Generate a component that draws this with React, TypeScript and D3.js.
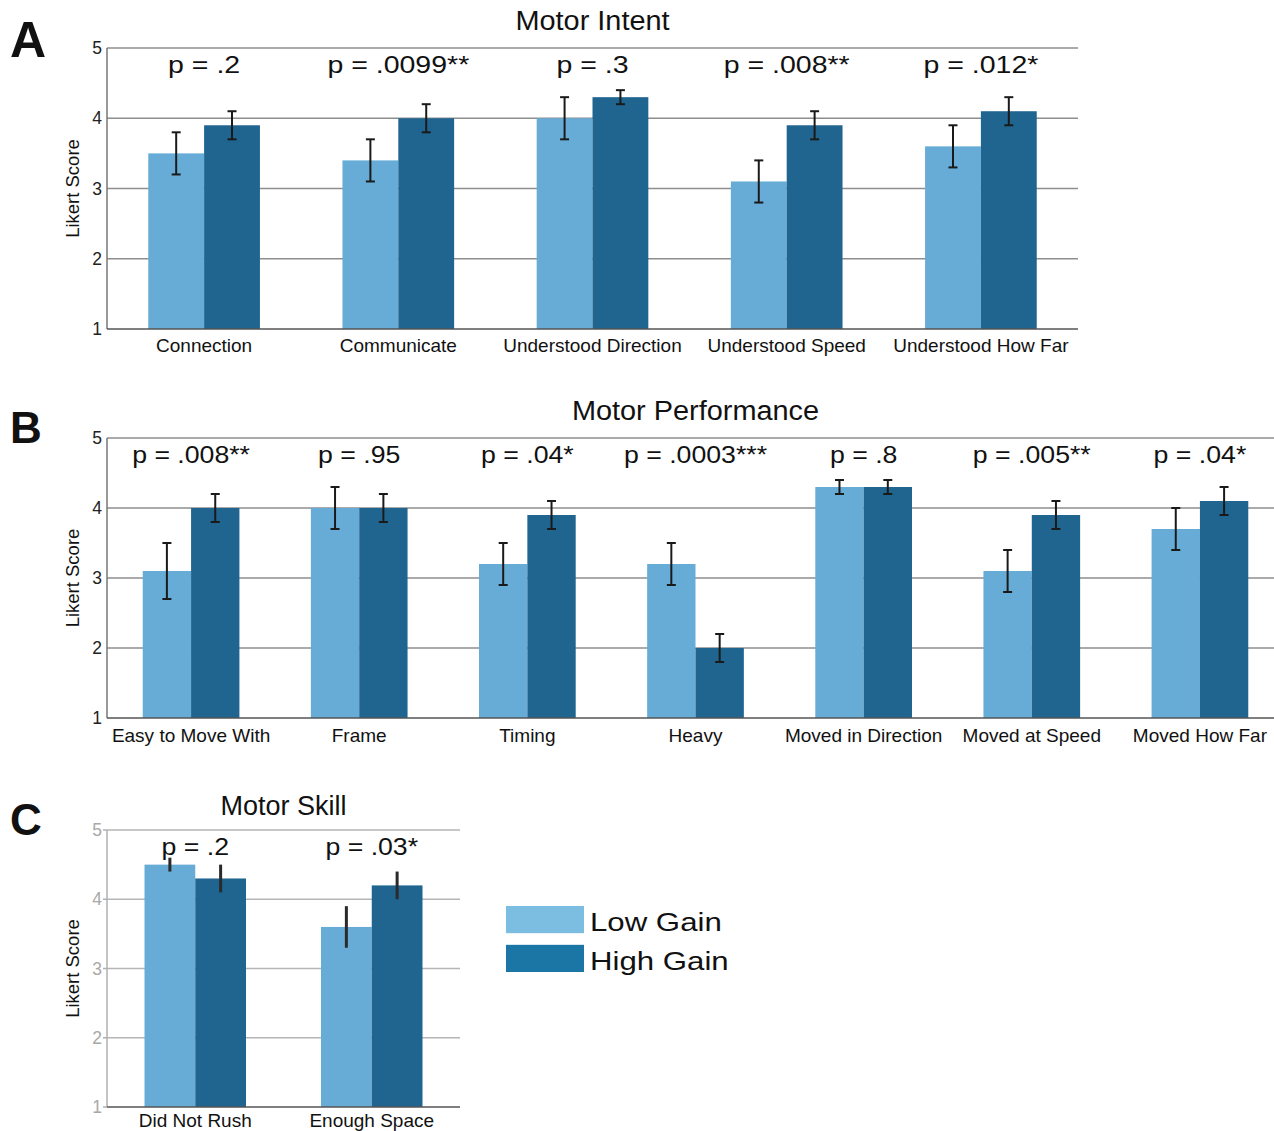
import React from 'react';
import * as d3 from 'd3';

// ---------- data ----------
const intentCategories = ['Connection', 'Communicate', 'Understood Direction', 'Understood Speed', 'Understood How Far'];
const intentLow = [3.5, 3.4, 4.0, 3.1, 3.6];
const intentLowErr = [0.3, 0.3, 0.3, 0.3, 0.3];
const intentHigh = [3.9, 4.0, 4.3, 3.9, 4.1];
const intentHighErr = [0.2, 0.2, 0.1, 0.2, 0.2];
const intentP = ['p = .2', 'p = .0099**', 'p = .3', 'p = .008**', 'p = .012*'];

const perfCategories = ['Easy to Move With', 'Frame', 'Timing', 'Heavy', 'Moved in Direction', 'Moved at Speed', 'Moved How Far'];
const perfLow = [3.1, 4.0, 3.2, 3.2, 4.3, 3.1, 3.7];
const perfLowErr = [0.4, 0.3, 0.3, 0.3, 0.1, 0.3, 0.3];
const perfHigh = [4.0, 4.0, 3.9, 2.0, 4.3, 3.9, 4.1];
const perfHighErr = [0.2, 0.2, 0.2, 0.2, 0.1, 0.2, 0.2];
const perfP = ['p = .008**', 'p = .95', 'p = .04*', 'p = .0003***', 'p = .8', 'p = .005**', 'p = .04*'];

const skillCategories = ['Did Not Rush', 'Enough Space'];
const skillLow = [4.5, 3.6];
const skillLowErr = [0.1, 0.3];
const skillHigh = [4.3, 4.2];
const skillHighErr = [0.2, 0.2];
const skillP = ['p = .2', 'p = .03*'];

const yTicks = [1, 2, 3, 4, 5];
const gridTicks = [2, 3, 4, 5];
const seriesNames = ['Low Gain', 'High Gain'];

// ---------- style ----------
const FONT = '"Liberation Sans", Arial, Helvetica, sans-serif';
const LOW_COLOR = '#67acd6';
const HIGH_COLOR = '#1f6590';
const LEGEND_LOW = '#7cbde2';
const LEGEND_HIGH = '#1b76a5';

type PanelProps = {
  cats: string[];
  low: number[];
  lowErr: number[];
  high: number[];
  highErr: number[];
  pLabels: string[];
  title: string;
  letter: string;
  letterSize: number;
  left: number;
  right: number;
  top: number;
  bottom: number;
  light?: boolean;
  pScale: number;
  titleSize: number;
  titleScale: number;
  titleGap: number;
  xLabelGap: number;
};

function Panel(props: PanelProps) {
  const { cats, low, lowErr, high, highErr, pLabels, title, letter, letterSize, left, right, top, bottom, light, pScale, titleSize, titleScale, titleGap, xLabelGap } = props;
  const pad = 0.425;
  const x0 = d3.scaleBand<string>().domain(cats).range([left, right]).paddingInner(pad).paddingOuter(pad / 2);
  const x1 = d3.scaleBand<string>().domain(['low', 'high']).range([0, x0.bandwidth()]);
  const y = d3.scaleLinear().domain([1, 5]).range([bottom, top]);
  const gridColor = light ? '#b5b5b5' : '#8e8e8e';
  const tickColor = light ? '#a8a8a8' : '#222';
  const axisColor = light ? '#b0b0b0' : '#777';
  const cx = (left + right) / 2;
  const cap = 4.5;

  const series = [
    { key: 'low', vals: low, errs: lowErr, color: LOW_COLOR },
    { key: 'high', vals: high, errs: highErr, color: HIGH_COLOR },
  ];

  return (
    <g>
      {/* letter */}
      <text x={10} y={top + (letter === 'A' ? 9 : 5)} fontSize={letterSize} fontWeight="bold" fontFamily={FONT} fill="#111">{letter}</text>
      {/* title */}
      <text transform={`translate(${cx},${top - titleGap}) scale(${titleScale},1)`} textAnchor="middle" fontSize={titleSize} fontFamily={FONT} fill="#111">{title}</text>
      {/* grid */}
      {gridTicks.map((t) => (
        <line key={t} x1={left} x2={right} y1={y(t)} y2={y(t)} stroke={gridColor} strokeWidth={1.5} />
      ))}
      {/* bars */}
      {cats.map((c, i) => (
        <g key={c}>
          {series.map((s) => (
            <rect key={s.key} x={(x0(c) as number) + (x1(s.key) as number)} y={y(s.vals[i])} width={x1.bandwidth()} height={y(1) - y(s.vals[i])} fill={s.color} />
          ))}
        </g>
      ))}
      {/* error bars */}
      {cats.map((c, i) => (
        <g key={c + '-err'}>
          {series.map((s) => {
            const ex = (x0(c) as number) + (x1(s.key) as number) + x1.bandwidth() / 2;
            const y1 = y(s.vals[i] + s.errs[i]);
            const y2 = y(s.vals[i] - s.errs[i]);
            return light ? (
              <line key={s.key} x1={ex} x2={ex} y1={y1} y2={y2} stroke="#2a2a2a" strokeWidth={3} />
            ) : (
              <g key={s.key} stroke="#1a1a1a" strokeWidth={2}>
                <line x1={ex} x2={ex} y1={y1} y2={y2} />
                <line x1={ex - cap} x2={ex + cap} y1={y1} y2={y1} />
                <line x1={ex - cap} x2={ex + cap} y1={y2} y2={y2} />
              </g>
            );
          })}
        </g>
      ))}
      {/* axes */}
      <line x1={left} x2={left} y1={top} y2={bottom} stroke={axisColor} strokeWidth={1.5} />
      <line x1={left} x2={right} y1={bottom} y2={bottom} stroke="#555" strokeWidth={1.5} />
      {light && yTicks.map((t) => (
        <line key={'tk' + t} x1={left - 4} x2={left} y1={y(t)} y2={y(t)} stroke={axisColor} strokeWidth={1.5} />
      ))}
      {yTicks.map((t) => (
        <text key={'yl' + t} x={left - 5} y={y(t)} dy="0.35em" textAnchor="end" fontSize={17.5} fontFamily={FONT} fill={tickColor}>{t}</text>
      ))}
      <text transform={`translate(79,${(top + bottom) / 2}) rotate(-90)`} textAnchor="middle" fontSize={18.5} fontFamily={FONT} fill="#111">Likert Score</text>
      {/* x labels */}
      {cats.map((c) => (
        <text key={c + '-xl'} x={(x0(c) as number) + x0.bandwidth() / 2} y={bottom + xLabelGap} textAnchor="middle" fontSize={19} fontFamily={FONT} fill="#111">{c}</text>
      ))}
      {/* p labels */}
      {cats.map((c, i) => (
        <text key={c + '-p'} transform={`translate(${(x0(c) as number) + x0.bandwidth() / 2},${top + 24.5}) scale(${pScale},1)`} textAnchor="middle" fontSize={23} fontFamily={FONT} fill="#111">{pLabels[i]}</text>
      ))}
    </g>
  );
}

function Legend() {
  const colors = [LEGEND_LOW, LEGEND_HIGH];
  const yPos = d3.scaleBand<string>().domain(seriesNames).range([906, 972]).paddingInner(0.3);
  return (
    <g>
      {seriesNames.map((n, i) => (
        <g key={n}>
          <rect x={506} y={yPos(n) as number} width={78} height={yPos.bandwidth()} fill={colors[i]} />
          <text transform={`translate(590,${(yPos(n) as number) + yPos.bandwidth() - 2}) scale(1.2,1)`} fontSize={26} fontFamily={FONT} fill="#111">{n}</text>
        </g>
      ))}
    </g>
  );
}

export default function App() {
  return (
    <svg width={1274} height={1131} style={{ position: 'absolute', left: 0, top: 0, display: 'block', background: '#fff' }}>
      <rect x={0} y={0} width={1274} height={1131} fill="#fff" />
      <Panel cats={intentCategories} low={intentLow} lowErr={intentLowErr} high={intentHigh} highErr={intentHighErr}
        pLabels={intentP} title="Motor Intent" letter="A" letterSize={50}
        left={107} right={1078} top={48} bottom={329} pScale={1.24} titleSize={27} titleScale={1.07} titleGap={18} xLabelGap={23} />
      <Panel cats={perfCategories} low={perfLow} lowErr={perfLowErr} high={perfHigh} highErr={perfHighErr}
        pLabels={perfP} title="Motor Performance" letter="B" letterSize={44}
        left={107} right={1284} top={438} bottom={718} pScale={1.16} titleSize={27} titleScale={1.07} titleGap={18} xLabelGap={24} />
      <Panel cats={skillCategories} low={skillLow} lowErr={skillLowErr} high={skillHigh} highErr={skillHighErr}
        pLabels={skillP} title="Motor Skill" letter="C" letterSize={44} light
        left={107} right={460} top={830} bottom={1107} pScale={1.16} titleSize={27} titleScale={1.0} titleGap={15} xLabelGap={20} />
      <Legend />
    </svg>
  );
}
